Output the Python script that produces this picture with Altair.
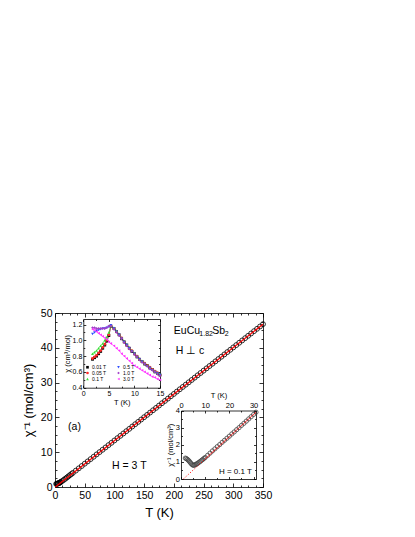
import altair as alt
import pandas as pd

FONT = "Liberation Sans"
W, H = 208, 174

# ---------------- main panel: 1/chi vs T at H = 3 T ----------------
T_main = [2, 3, 4, 5, 6, 7, 8, 9, 10, 12.5, 15, 17.5, 20, 22.5, 25, 27.5, 30,
          35, 40, 45, 50, 55, 60, 65, 70, 75, 80, 85, 90, 95, 100,
          105, 110, 115, 120, 125, 130, 135, 140, 145, 150,
          155, 160, 165, 170, 175, 180, 185, 190, 195, 200,
          205, 210, 215, 220, 225, 230, 235, 240, 245, 250,
          255, 260, 265, 270, 275, 280, 285, 290, 295, 300,
          305, 310, 315, 320, 325, 330, 335, 340, 345, 350]
chi_inv_3T = [0.88, 0.92, 0.98, 1.03, 1.08, 1.15, 1.25, 1.37, 1.49, 1.78, 2.08, 2.40, 2.73, 3.06, 3.39, 3.72, 4.05,
              4.70, 5.36, 6.03, 6.70, 7.35, 8.02, 8.69, 9.36, 10.03, 10.70, 11.36, 12.03, 12.70, 13.37,
              14.04, 14.71, 15.38, 16.04, 16.71, 17.38, 18.05, 18.72, 19.39, 20.06,
              20.72, 21.39, 22.06, 22.73, 23.40, 24.07, 24.73, 25.40, 26.07, 26.74,
              27.41, 28.08, 28.75, 29.41, 30.08, 30.75, 31.42, 32.09, 32.76, 33.43,
              34.09, 34.76, 35.43, 36.10, 36.77, 37.44, 38.10, 38.77, 39.44, 40.11,
              40.78, 41.45, 42.12, 42.78, 43.45, 44.12, 44.79, 45.46, 46.13, 46.80]
T_fit_main = [0.5, 350]
chi_inv_fit_main = [0.0, 46.75]

x_main_major = [0, 50, 100, 150, 200, 250, 300, 350]
x_main_ticks = [0, 12.5, 25, 37.5, 50, 62.5, 75, 87.5, 100, 112.5, 125, 137.5, 150, 162.5,
                175, 187.5, 200, 212.5, 225, 237.5, 250, 262.5, 275, 287.5, 300, 312.5,
                325, 337.5, 350]
y_main_major = [0, 10, 20, 30, 40, 50]
y_main_ticks = [0, 2.5, 5, 7.5, 10, 12.5, 15, 17.5, 20, 22.5, 25, 27.5, 30, 32.5, 35,
                37.5, 40, 42.5, 45, 47.5, 50]

# ---------------- inset 1: chi vs T at several fields ----------------
T_in = [1.8, 2.2, 2.6, 3.0, 3.4, 3.8, 4.2, 4.6, 5.0, 5.4, 6.0, 6.5, 7.0, 7.5, 8.0, 8.5,
        9.0, 9.5, 10.0, 10.5, 11.0, 11.5, 12.0, 12.5, 13.0, 13.5, 14.0, 14.5, 15.0]
chi_001 = [0.76, 0.78, 0.80, 0.83, 0.86, 0.90, 0.94, 0.99, 1.06, 1.18, 1.15, 1.11, 1.07, 1.02, 0.98,
           0.94, 0.90, 0.86, 0.83, 0.79, 0.76, 0.73, 0.70, 0.68, 0.65, 0.63, 0.60, 0.58, 0.56]
chi_005 = [0.77, 0.79, 0.81, 0.84, 0.87, 0.91, 0.95, 1.00, 1.07, 1.18, 1.15, 1.11, 1.07, 1.03, 0.98,
           0.94, 0.90, 0.87, 0.83, 0.80, 0.76, 0.73, 0.71, 0.68, 0.66, 0.63, 0.61, 0.59, 0.56]
chi_01 = [0.83, 0.85, 0.87, 0.90, 0.93, 0.96, 1.00, 1.04, 1.10, 1.18, 1.16, 1.12, 1.08, 1.03, 0.99,
          0.95, 0.91, 0.87, 0.84, 0.80, 0.77, 0.74, 0.71, 0.68, 0.66, 0.63, 0.61, 0.59, 0.57]
chi_05 = [1.08, 1.10, 1.12, 1.13, 1.14, 1.15, 1.15, 1.16, 1.17, 1.19, 1.15, 1.11, 1.07, 1.02, 0.98,
          0.94, 0.90, 0.86, 0.83, 0.79, 0.76, 0.73, 0.70, 0.67, 0.65, 0.62, 0.60, 0.58, 0.56]
chi_10 = [1.16, 1.16, 1.15, 1.15, 1.15, 1.15, 1.15, 1.16, 1.18, 1.18, 1.14, 1.10, 1.06, 1.02, 0.97,
          0.93, 0.89, 0.86, 0.82, 0.79, 0.75, 0.72, 0.70, 0.67, 0.64, 0.62, 0.60, 0.57, 0.55]
chi_30 = [1.14, 1.13, 1.11, 1.09, 1.07, 1.05, 1.03, 1.01, 0.98, 0.96, 0.93, 0.90, 0.87, 0.83, 0.80,
          0.77, 0.74, 0.71, 0.68, 0.66, 0.64, 0.62, 0.60, 0.58, 0.56, 0.54, 0.53, 0.51, 0.50]
field_names = ["0.01 T", "0.05 T", "0.1 T", "0.5 T", "1.0 T", "3.0 T"]
field_colors = ["#000000", "#ff2a2a", "#33e033", "#3050ff", "#a040c8", "#ff30ff"]
field_shapes = ["square", "circle", "triangle-up", "triangle-down", "diamond", "triangle-left"]
line_order = ["3.0 T", "1.0 T", "0.5 T", "0.1 T", "0.05 T", "0.01 T"]

x_in1_major = [0, 5, 10, 15]
x_in1_ticks = [0, 2.5, 5, 7.5, 10, 12.5, 15]
y_in1_major = [0.4, 0.6, 0.8, 1.0, 1.2]
y_in1_ticks = [0.4, 0.5, 0.6, 0.7, 0.8, 0.9, 1.0, 1.1, 1.2]

# ---------------- inset 2: 1/chi vs T at H = 0.1 T ----------------
T_low = [1.8, 2.2, 2.6, 3.0, 3.4, 3.8, 4.2, 4.6, 5.0, 5.4, 5.8, 6.2, 6.6, 7.0, 7.5, 8.0, 8.5,
         9.0, 9.5, 10, 11, 12, 13, 14, 15, 16, 17, 18, 19, 20, 21, 22, 23, 24, 25, 26, 27,
         28, 29, 30, 31]
chi_inv_01T = [1.22, 1.19, 1.15, 1.10, 1.04, 0.97, 0.90, 0.84, 0.80, 0.80, 0.83, 0.86, 0.89,
               0.93, 0.98, 1.03, 1.09, 1.14, 1.20, 1.26, 1.38, 1.51, 1.64, 1.76, 1.89, 2.01,
               2.14, 2.26, 2.38, 2.50, 2.63, 2.75, 2.88, 3.00, 3.13, 3.25, 3.38, 3.51, 3.64,
               3.77, 3.90]
T_fit_low = [1.0, 10.0, 10.0, 31.0]
chi_inv_fit_low = [0.0, 1.17, 1.17, 3.90]
fit_low_part = ["dotted", "dotted", "solid", "solid"]

x_in2_major = [0, 10, 20, 30]
x_in2_ticks = [0, 5, 10, 15, 20, 25, 30]
y_in2_major = [0, 1, 2, 3, 4]
y_in2_ticks = [0, 0.5, 1, 1.5, 2, 2.5, 3, 3.5, 4]


# ---------------- helpers ----------------
def off(orient, pos):
    return {"bottom": pos - H, "top": -pos, "left": -pos, "right": pos - W}[orient]


def make_axis(orient, pos, values, test="true", labels=False, title=None, domain=False,
              ticks=True, big=3.5, small=2.0, lsize=10, tsize=12, lpad=3, tpad=4, fmt=None):
    kw = dict(orient=orient, offset=off(orient, pos), values=values, grid=False,
              domain=domain, domainColor="black", domainWidth=0.8,
              ticks=ticks, labels=labels, labelFlush=False, labelOverlap=False,
              labelFont=FONT, labelFontSize=lsize, labelColor="black", labelPadding=lpad,
              titleFont=FONT, titleFontSize=tsize, titleFontWeight="normal",
              titleColor="black", titlePadding=tpad, title=title)
    if ticks:
        kw.update(tickColor="black", tickWidth=0.8,
                  tickSize={"condition": {"test": test, "value": big}, "value": small})
    else:
        kw.update(tickSize=0)
    if fmt:
        kw["format"] = fmt
    return alt.Axis(**kw)


def frame(rect, x_side, xmaj, xticks, xtest, ymaj, yticks, ytest, xtitle, ytitle,
          lsize, tsize, lpad, tpad, big, small, yfmt=None, xtpad=None):
    L, R, T, B = rect
    near_x = B if x_side == "bottom" else T
    far_x = T if x_side == "bottom" else B
    opp = {"bottom": "top", "top": "bottom"}[x_side]
    xtp = tpad if xtpad is None else xtpad
    A = (make_axis(x_side, near_x, xmaj, labels=True, ticks=False, domain=True, title=xtitle,
                   lsize=lsize, tsize=tsize, lpad=lpad, tpad=xtp),
         make_axis("left", L, ymaj, labels=True, ticks=False, domain=True, title=ytitle,
                   lsize=lsize, tsize=tsize, lpad=lpad, tpad=tpad, fmt=yfmt))
    Bx = (make_axis(opp, near_x, xticks, test=xtest, big=big, small=small),
          make_axis("right", L, yticks, test=ytest, big=big, small=small))
    C = (make_axis(x_side, far_x, xticks, test=xtest, big=big, small=small, domain=True),
         make_axis("left", R, yticks, test=ytest, big=big, small=small, domain=True))
    return A, Bx, C


def label(text, x, y, size, align="left", dx=0, dy=0):
    return alt.Chart(alt.Data(values=[{}])).mark_text(
        text=text, align=align, baseline="middle", font=FONT, fontSize=size,
        color="black", dx=dx, dy=dy
    ).encode(x=alt.XDatum(x, axis=None), y=alt.YDatum(y, axis=None))


# ---------------- main panel ----------------
main_df = pd.DataFrame({"T": T_main, "chi_inv": chi_inv_3T})
main_fit_df = pd.DataFrame({"T": T_fit_main, "chi_inv": chi_inv_fit_main})
xs0 = alt.Scale(domain=[0, 350], range=[0, W], nice=False, zero=False)
ys0 = alt.Scale(domain=[0, 50], range=[H, 0], nice=False, zero=False)
A0, B0, C0 = frame((0, W, 0, H), "bottom", x_main_major, x_main_ticks, "datum.value % 50 === 0",
                   y_main_major, y_main_ticks, "datum.value % 10 === 0",
                   "T (K)", "χ⁻¹ (mol/cm³)", lsize=10.5, tsize=13, lpad=3, tpad=5,
                   big=4, small=2, xtpad=6)

main_pts = alt.Chart(main_df).mark_point(shape="circle", filled=False, size=24, color="black",
                                         strokeWidth=0.8, opacity=1).encode(
    x=alt.X("T:Q", scale=xs0, axis=A0[0]), y=alt.Y("chi_inv:Q", scale=ys0, axis=A0[1]))
main_fit = alt.Chart(main_fit_df).mark_line(color="#ff0000", strokeWidth=1.3).encode(
    x=alt.X("T:Q", scale=xs0, axis=B0[0]), y=alt.Y("chi_inv:Q", scale=ys0, axis=B0[1]))
main_box = alt.Chart(main_df).mark_point(opacity=0).encode(
    x=alt.X("T:Q", scale=xs0, axis=C0[0]), y=alt.Y("chi_inv:Q", scale=ys0, axis=C0[1]))

main = alt.layer(
    main_pts, main_fit, main_box,
    label("EuCu", 200, 44.8, 10.5),
    label("1.82", 200, 44.8, 7, dx=25.5, dy=3),
    label("Sb", 200, 44.8, 10.5, dx=38.5),
    label("2", 200, 44.8, 7, dx=51, dy=3),
    label("H ⊥ c", 203, 39.1, 10.5),
    label("(a)", 22, 17.2, 10.5),
    label("H = 3 T", 96, 6.0, 10.5),
).resolve_axis(x="independent", y="independent")

# ---------------- inset 1 ----------------
rows = []
for name, vals in zip(field_names, [chi_001, chi_005, chi_01, chi_05, chi_10, chi_30]):
    for t, c in zip(T_in, vals):
        rows.append({"T": t, "chi": c, "field": name})
in1_df = pd.DataFrame(rows)
xs1 = alt.Scale(domain=[0, 15], range=[28.3, 105], nice=False, zero=False)
ys1 = alt.Scale(domain=[0.4, 1.27], range=[74.7, 6], nice=False, zero=False)
A1, B1, C1 = frame((28.3, 105, 6, 74.7), "bottom", x_in1_major, x_in1_ticks, "datum.value % 5 === 0",
                   y_in1_major, y_in1_ticks, "abs(datum.value * 5 - round(datum.value * 5)) < 0.001",
                   "T (K)", "χ (cm³/mol)", lsize=7, tsize=7.5, lpad=1.5, tpad=1,
                   big=2.5, small=1.5, yfmt=".1f", xtpad=2)
cscale = alt.Scale(domain=field_names, range=field_colors)
sscale = alt.Scale(domain=field_names, range=field_shapes)
# line colours use a separately ordered domain so that no legend is merged with it
line_scale = alt.Scale(domain=line_order,
                       range=[field_colors[field_names.index(n)] for n in line_order])
leg = alt.Legend(orient="none", legendX=30, legendY=51.5, columns=2, title=None,
                 labelFont=FONT, labelFontSize=5, labelColor="black", symbolSize=7,
                 rowPadding=0, columnPadding=9, labelOffset=2, padding=0)
in1_lines = alt.Chart(in1_df).mark_line(strokeWidth=0.6).encode(
    x=alt.X("T:Q", scale=xs1, axis=B1[0]), y=alt.Y("chi:Q", scale=ys1, axis=B1[1]),
    stroke=alt.Stroke("field:N", scale=line_scale, legend=None))
in1_pts = alt.Chart(in1_df).mark_point(filled=True, size=8, opacity=1).encode(
    x=alt.X("T:Q", scale=xs1, axis=A1[0]), y=alt.Y("chi:Q", scale=ys1, axis=A1[1]),
    color=alt.Color("field:N", scale=cscale, legend=leg),
    shape=alt.Shape("field:N", scale=sscale, legend=leg))
in1_box = alt.Chart(in1_df).mark_point(opacity=0).encode(
    x=alt.X("T:Q", scale=xs1, axis=C1[0]), y=alt.Y("chi:Q", scale=ys1, axis=C1[1]))
inset1 = alt.layer(in1_lines, in1_pts, in1_box).resolve_axis(x="independent", y="independent")

# ---------------- inset 2 ----------------
in2_df = pd.DataFrame({"T": T_low, "chi_inv": chi_inv_01T})
in2_fit_df = pd.DataFrame({"T": T_fit_low, "chi_inv": chi_inv_fit_low, "part": fit_low_part})
xs2 = alt.Scale(domain=[0, 31], range=[126, 201], nice=False, zero=False)
ys2 = alt.Scale(domain=[0, 4], range=[166, 97.5], nice=False, zero=False)
A2, B2, C2 = frame((126, 201, 97.5, 166), "top", x_in2_major, x_in2_ticks, "datum.value % 10 === 0",
                   y_in2_major, y_in2_ticks, "datum.value % 1 === 0",
                   "T (K)", "χ⁻¹ (mol/cm³)", lsize=7.5, tsize=7.5, lpad=1.5, tpad=1,
                   big=2.5, small=1.5, xtpad=2)
in2_pts = alt.Chart(in2_df).mark_point(shape="circle", filled=False, size=18, color="#444444",
                                       strokeWidth=0.8, opacity=1).encode(
    x=alt.X("T:Q", scale=xs2, axis=A2[0]), y=alt.Y("chi_inv:Q", scale=ys2, axis=A2[1]))
in2_fit = alt.Chart(in2_fit_df).mark_line(color="#ff0000", strokeWidth=0.9).encode(
    x=alt.X("T:Q", scale=xs2, axis=B2[0]), y=alt.Y("chi_inv:Q", scale=ys2, axis=B2[1]),
    detail="part:N",
    strokeDash=alt.StrokeDash("part:N", scale=alt.Scale(domain=["dotted", "solid"],
                                                        range=[[1.2, 1.8], [1, 0]]), legend=None))
in2_box = alt.Chart(in2_df).mark_point(opacity=0).encode(
    x=alt.X("T:Q", scale=xs2, axis=C2[0]), y=alt.Y("chi_inv:Q", scale=ys2, axis=C2[1]))
inset2 = alt.layer(
    in2_pts, in2_fit, in2_box,
    label("H = 0.1 T", 29.3, 0.42, 8, align="right"),
).resolve_axis(x="independent", y="independent")

chart = alt.layer(main, inset1, inset2).resolve_scale(
    x="independent", y="independent"
).resolve_axis(
    x="independent", y="independent"
).properties(
    width=W, height=H,
    padding={"left": 47, "top": 305, "right": 30, "bottom": 50},
    autosize=alt.AutoSizeParams(type="none"),
    background="white",
).configure_view(stroke="transparent")

chart.save("out.html", embed_options={"renderer": "svg", "actions": False})
